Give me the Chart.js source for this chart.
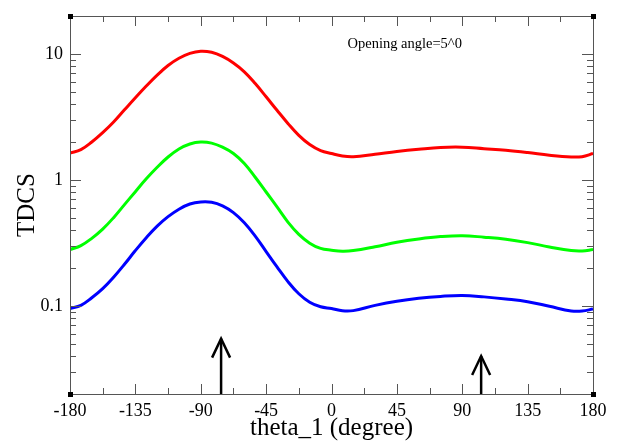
<!DOCTYPE html>
<html>
<head>
<meta charset="utf-8">
<script src="https://cdn.jsdelivr.net/npm/chart.js@4"></script>
<style>
  body { margin: 0; background: #fff; }
  canvas { display: block; }
</style>
</head>
<body>
<canvas id="tdcs" width="623" height="443"></canvas>
<script>
// angle theta_1 in degrees
var theta = [-180, -172.5, -165, -157.5, -150, -142.5, -135, -127.5, -120, -112.5, -105, -97.5, -90,
             -82.5, -75, -67.5, -60, -52.5, -45, -37.5, -30, -22.5, -15, -7.5, 0,
             7.5, 15, 30, 45, 60, 75, 90, 105, 120, 135, 150, 165, 172.5, 180];
var redTdcs = [1.63, 1.74, 2.00, 2.37, 2.88, 3.60, 4.49, 5.56, 6.79, 8.09, 9.23, 10.1, 10.5,
               10.3, 9.55, 8.47, 7.21, 5.82, 4.57, 3.57, 2.81, 2.26, 1.91, 1.71, 1.62,
               1.55, 1.53, 1.60, 1.68, 1.75, 1.81, 1.82, 1.77, 1.72, 1.65, 1.57, 1.52, 1.53, 1.62];
var greenTdcs = [0.280, 0.301, 0.344, 0.407, 0.502, 0.637, 0.807, 1.02, 1.26, 1.52, 1.76, 1.93, 2.00,
                 1.96, 1.82, 1.62, 1.35, 1.05, 0.802, 0.610, 0.463, 0.370, 0.315, 0.286, 0.277,
                 0.272, 0.275, 0.295, 0.320, 0.340, 0.355, 0.361, 0.351, 0.338, 0.318, 0.294, 0.275, 0.273, 0.280];
var blueTdcs = [0.0953, 0.101, 0.116, 0.137, 0.169, 0.214, 0.275, 0.348, 0.430, 0.511, 0.586, 0.644, 0.668,
                0.664, 0.622, 0.550, 0.457, 0.358, 0.270, 0.204, 0.156, 0.125, 0.107, 0.0984, 0.0953,
                0.0915, 0.0918, 0.101, 0.109, 0.115, 0.119, 0.121, 0.118, 0.1135, 0.108, 0.0993, 0.0912, 0.0910, 0.0945];

// arrows marking directions
var arrowX = [-76, 103];
var arrowTop = [0.055, 0.040];
var arrowBase = 0.02;

// ticks
var xMajor = [-180, -135, -90, -45, 0, 45, 90, 135, 180];
var xMinor = [-157.5, -112.5, -67.5, -22.5, 22.5, 67.5, 112.5, 157.5];
var yMajor = [0.1, 1, 10];
var yMinor = [0.03, 0.04, 0.05, 0.06, 0.07, 0.08, 0.09, 0.2, 0.3, 0.4, 0.5, 0.6, 0.7, 0.8, 0.9, 2, 3, 4, 5, 6, 7, 8, 9];

var serif = '"Liberation Serif", "Times New Roman", serif';

function pts(ys) {
    return theta.map(function(t, i) { return { x: t, y: ys[i] }; });
}

function curve(ys, color) {
    return {
        data: pts(ys),
        borderColor: color,
        borderWidth: 3,
        pointRadius: 0,
        tension: 0.4,
        fill: false
    };
}

var datasets = [
    curve(redTdcs, '#ff0000'),
    curve(greenTdcs, '#00ff00'),
    curve(blueTdcs, '#0000ff')
];
arrowX.forEach(function(ax, i) {
    datasets.push({
        data: [{ x: ax, y: arrowBase }, { x: ax, y: arrowTop[i] }],
        borderColor: '#000',
        borderWidth: 2.5,
        pointRadius: 0,
        arrow: true
    });
});

// frame, inward ticks, corner marks, arrow heads, note
var framePlugin = {
    id: 'frame',
    afterDatasetsDraw: function(chart) {
        var ctx = chart.ctx;
        var a = chart.chartArea;
        var xs = chart.scales.x, ys = chart.scales.y;
        ctx.save();

        // arrow heads
        ctx.strokeStyle = '#000';
        ctx.lineWidth = 2.5;
        chart.data.datasets.forEach(function(ds, i) {
            if (!ds.arrow) return;
            var p = chart.getDatasetMeta(i).data[1];
            ctx.beginPath();
            ctx.moveTo(p.x - 9, p.y + 19);
            ctx.lineTo(p.x, p.y);
            ctx.lineTo(p.x + 9, p.y + 19);
            ctx.stroke();
        });

        ctx.strokeStyle = '#555';
        ctx.lineWidth = 1;
        ctx.strokeRect(a.left + 0.5, a.top + 0.5, a.right - a.left, a.bottom - a.top);

        ctx.beginPath();
        function xt(v, len) {
            var px = Math.round(xs.getPixelForValue(v)) + 0.5;
            ctx.moveTo(px, a.bottom); ctx.lineTo(px, a.bottom - len);
            ctx.moveTo(px, a.top); ctx.lineTo(px, a.top + len);
        }
        function yt(v, len) {
            var py = Math.round(ys.getPixelForValue(v)) + 0.5;
            ctx.moveTo(a.left, py); ctx.lineTo(a.left + len, py);
            ctx.moveTo(a.right, py); ctx.lineTo(a.right - len, py);
        }
        xMajor.forEach(function(v) { xt(v, 10); });
        xMinor.forEach(function(v) { xt(v, 6); });
        yMajor.forEach(function(v) { yt(v, 11); });
        yMinor.forEach(function(v) { yt(v, 6); });
        ctx.stroke();

        ctx.fillStyle = '#000';
        [[a.left, a.top], [a.right, a.top], [a.left, a.bottom], [a.right, a.bottom]].forEach(function(c) {
            ctx.fillRect(c[0] - 2, c[1] - 2, 5, 5);
        });

        ctx.font = '14.5px ' + serif;
        ctx.textAlign = 'left';
        ctx.textBaseline = 'middle';
        ctx.fillText('Opening angle=5^0', xs.getPixelForValue(11), ys.getPixelForValue(11.9));
        ctx.restore();
    }
};

new Chart(document.getElementById('tdcs'), {
    type: 'line',
    data: { datasets: datasets },
    options: {
        responsive: false,
        animation: false,
        devicePixelRatio: 1,
        layout: { padding: { top: 16, right: 30, left: 0, bottom: 0 } },
        plugins: { legend: { display: false }, tooltip: { enabled: false } },
        scales: {
            x: {
                type: 'linear',
                min: -180,
                max: 180,
                afterBuildTicks: function(s) { s.ticks = xMajor.map(function(v) { return { value: v }; }); },
                afterFit: function(s) { s.height = 49; },
                grid: { display: false },
                border: { display: false },
                ticks: { color: '#000', font: { family: serif, size: 18 }, padding: -2, maxRotation: 0, autoSkip: false },
                title: { display: true, text: 'theta_1 (degree)', color: '#000', font: { family: serif, size: 25 }, padding: 0 }
            },
            y: {
                type: 'logarithmic',
                min: 0.02,
                max: 20,
                afterBuildTicks: function(s) { s.ticks = yMajor.map(function(v) { return { value: v }; }); },
                afterFit: function(s) { s.width = 70; },
                grid: { display: false },
                border: { display: false },
                ticks: {
                    color: '#000',
                    font: { family: serif, size: 18 },
                    padding: -1,
                    callback: function(v) { return String(v); }
                },
                title: { display: true, text: 'TDCS', color: '#000', font: { family: serif, size: 25 }, padding: { top: 12, bottom: 0 } }
            }
        }
    },
    plugins: [framePlugin]
});
</script>
</body>
</html>
